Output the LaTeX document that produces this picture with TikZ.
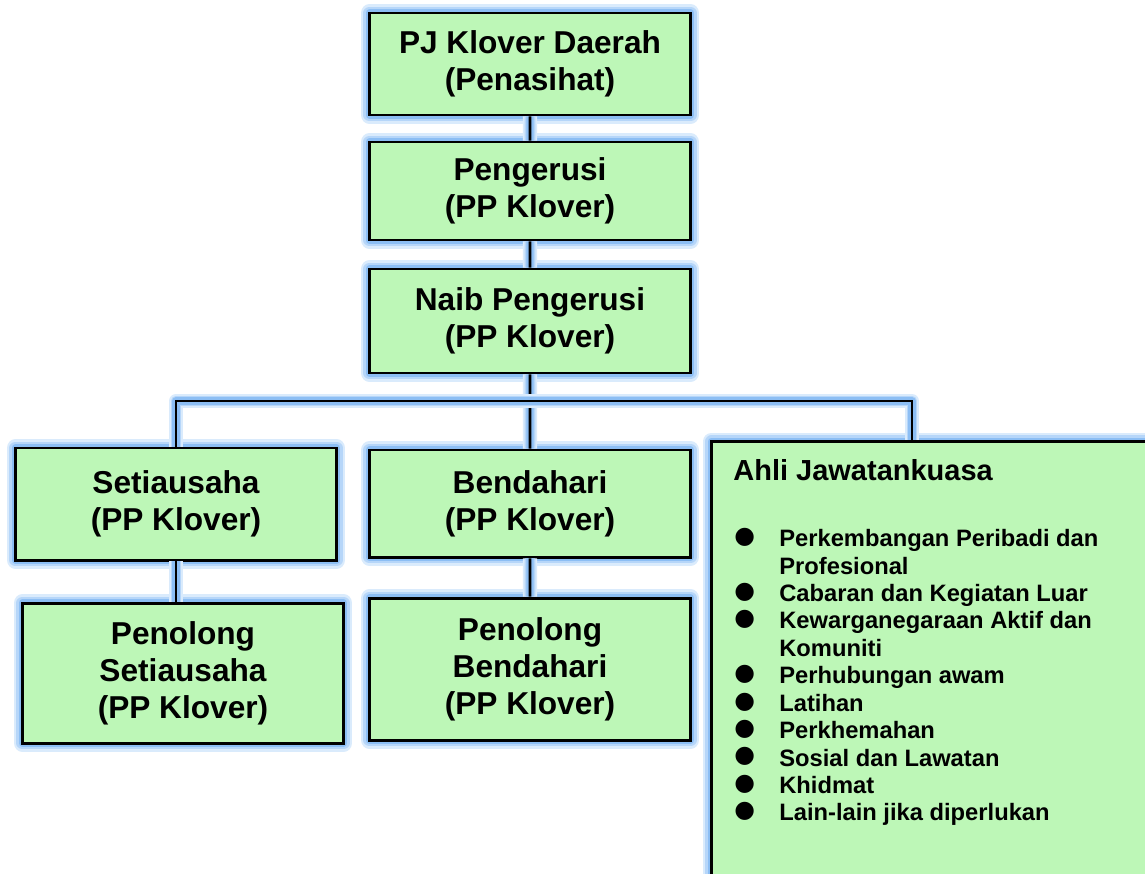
\documentclass[tikz,border=0pt]{standalone}
\usepackage{fontspec}
\setmainfont{Liberation Sans}
\newfontfamily\symfont{DejaVu Sans}
\usepackage{tikz}
\definecolor{leaf}{RGB}{189,247,183}
\definecolor{glowA}{RGB}{218,235,252}
\definecolor{glowB}{RGB}{182,214,249}
\definecolor{glowC}{RGB}{140,190,244}
\newcommand{\blt}{\makebox[0.9cm][l]{\symfont\raisebox{1.8pt}{●}}}
\begin{document}
\begin{tikzpicture}[scale=0.2]
        \tikzstyle{glow}=[preaction={draw=glowA,line width=10pt,line join=round},
                          preaction={draw=glowB,line width=7pt,line join=round},
                          preaction={draw=glowC,line width=4.5pt,line join=round}]
        \tikzstyle{thinglow}=[preaction={draw=glowA,line width=8pt,line join=round},
                              preaction={draw=glowB,line width=6pt,line join=round},
                              preaction={draw=glowC,line width=4pt,line join=round}]
        \tikzstyle{box}=[glow,draw=black,fill=leaf,line width=1.7pt,minimum width=6.42cm,
                         align=center,inner sep=2pt,font=\fontsize{18}{21}\selectfont\bfseries]
        \tikzstyle{link}=[thinglow,draw=black,line width=1.7pt]
        \clip (0,0) rectangle (114.5,-87.3);
        \node [box,minimum height=2.04cm] (pj) at (53.0,-6.4) {PJ Klover Daerah\\(Penasihat)};
        \node [box,minimum height=1.96cm] (peng) at (53.0,-19.1) {Pengerusi\\(PP Klover)};
        \node [box,minimum height=2.08cm] (naib) at (53.0,-32.1) {Naib Pengerusi\\(PP Klover)};
        \node [box,minimum height=2.24cm] (setia) at (17.6,-50.4) {Setiausaha\\(PP Klover)};
        \node [box,minimum height=2.14cm] (bend) at (53.0,-50.35) {Bendahari\\(PP Klover)};
        \node [box,minimum height=2.80cm] (psetia) at (18.3,-67.3) {Penolong\\Setiausaha\\(PP Klover)};
        \node [box,minimum height=2.84cm] (pbend) at (53.0,-66.9) {Penolong\\Bendahari\\(PP Klover)};
        \node [box,anchor=north west,minimum width=9cm,minimum height=9cm] (ahli) at (71.0,-44.0) {};
        \node [anchor=base west,inner sep=0pt,font=\fontsize{16.5}{20}\selectfont\bfseries] (ahlititle) at (73.3,-48.0) {Ahli Jawatankuasa};
        \node [anchor=north west,inner sep=0pt,align=left,font=\fontsize{13.5}{15.6}\selectfont\bfseries] (ahlilist) at (73.4,-52.8)
            {\blt Perkembangan Peribadi dan\\ \hspace*{0.9cm}Profesional\\
             \blt Cabaran dan Kegiatan Luar\\
             \blt Kewarganegaraan Aktif dan\\ \hspace*{0.9cm}Komuniti\\
             \blt Perhubungan awam\\
             \blt Latihan\\
             \blt Perkhemahan\\
             \blt Sosial dan Lawatan\\
             \blt Khidmat\\
             \blt Lain-lain jika diperlukan};
        \coordinate (bus) at (53.0,-40.1);
        \coordinate (ahlitop) at (91.2,-44.0);
        \draw [link] (pj) -- (peng);
        \draw [link] (peng) -- (naib);
        \draw [link] (naib) -- (bend);
        \draw [link] (setia.north) |- (bus) -| (ahlitop);
        \draw [link] (setia.south) -- (setia.south |- psetia.north);
        \draw [link] (bend) -- (pbend);
\end{tikzpicture}
\end{document}
